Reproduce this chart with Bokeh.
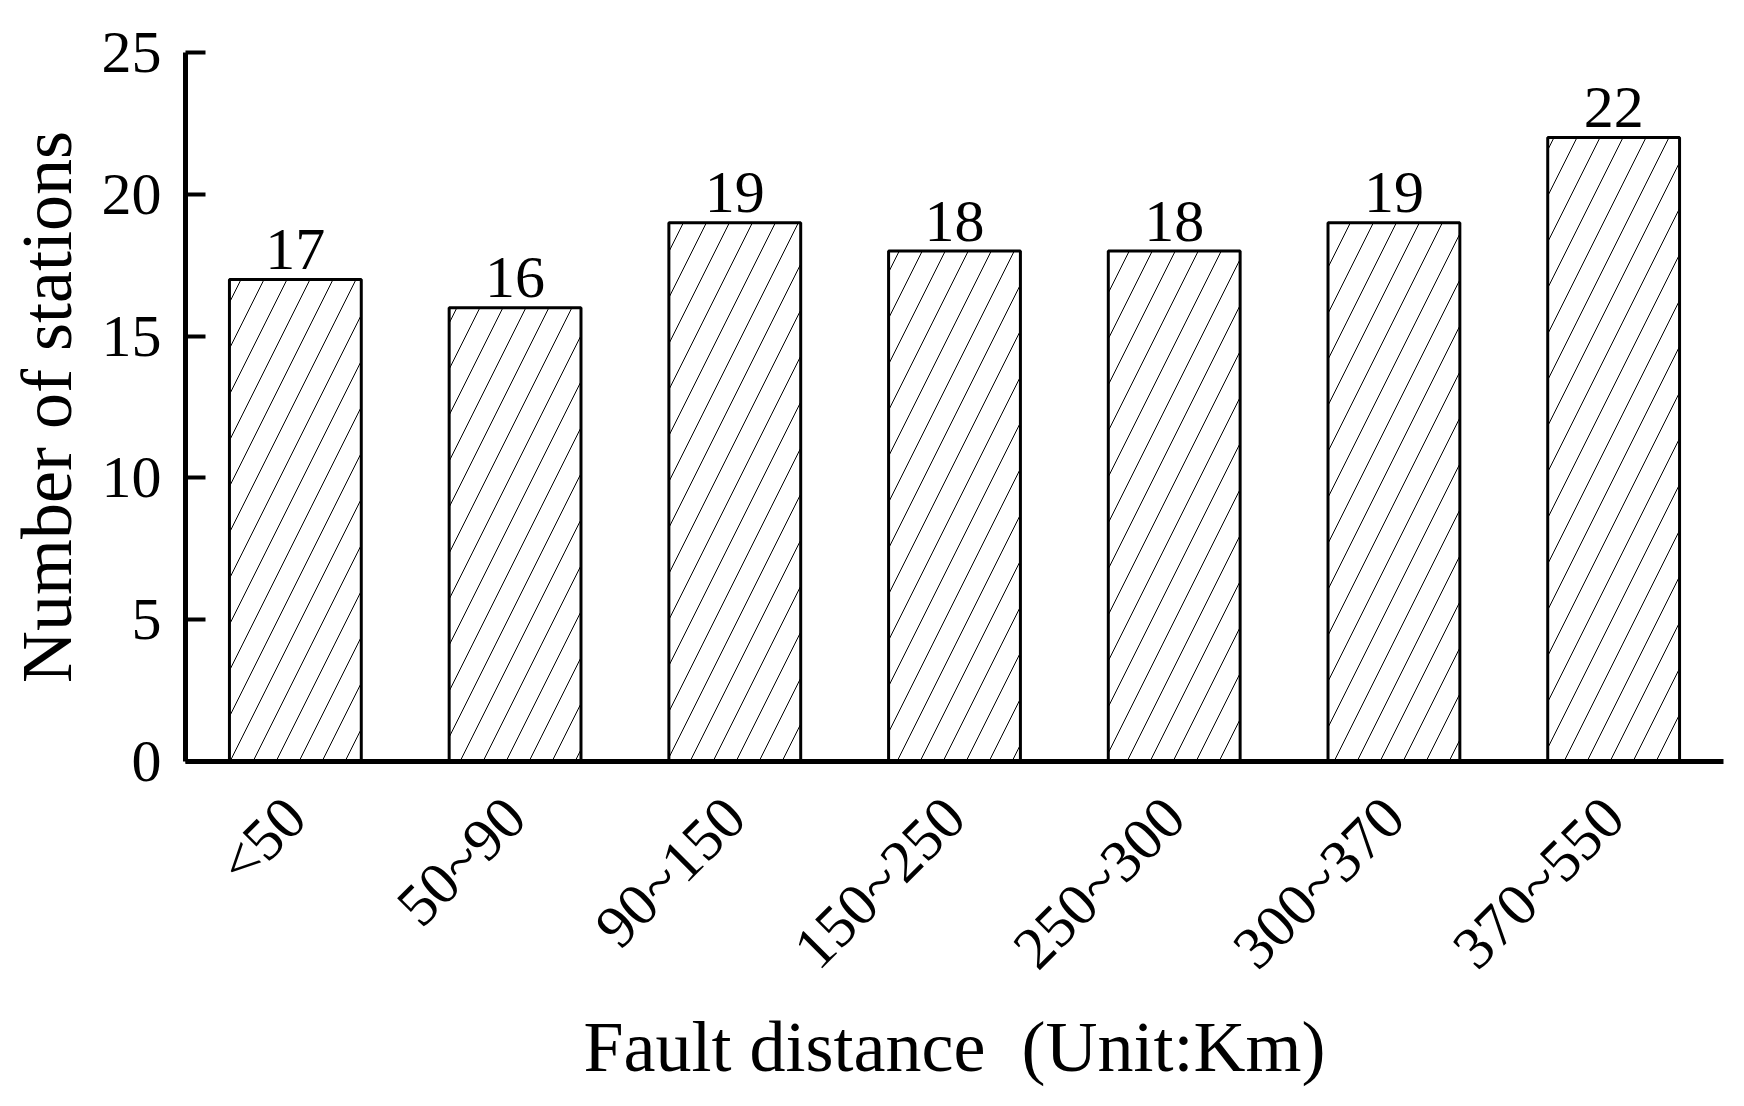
import math
from bokeh.plotting import figure
from bokeh.models import ColumnDataSource, FactorRange, Range1d, FixedTicker
from bokeh.core.properties import value
from bokeh.embed import file_html
from bokeh.resources import INLINE

categories = ["<50", "50~90", "90~150", "150~250", "250~300", "300~370", "370~550"]
stations = [17, 16, 19, 18, 18, 19, 22]
y_ticks = [0, 5, 10, 15, 20, 25]

FONT = "Liberation Serif"

src = ColumnDataSource(dict(cat=categories, val=stations,
                            lab=[str(v) for v in stations]))

p = figure(
    width=1728, height=1090,
    x_range=FactorRange(*categories, range_padding=0),
    y_range=Range1d(0, 25),
    output_backend="svg", toolbar_location=None,
    min_border_left=185, min_border_right=5, min_border_top=52, min_border_bottom=311,
)
p.outline_line_color = None
p.grid.visible = False
p.background_fill_color = "white"
p.border_fill_color = "white"

p.vbar(x="cat", top="val", width=0.6, bottom=0, source=src,
       fill_color="white", line_color="black", line_width=3,
       hatch_pattern="/", hatch_scale=46, hatch_weight=1, hatch_color="black")

# value labels above bars
p.text(x="cat", y="val", text="lab", source=src,
       text_font=value(FONT), text_font_size="60px", text_color="black",
       text_align="center", text_baseline="alphabetic", y_offset=-30)

# y axis
ya = p.yaxis[0]
ya.ticker = FixedTicker(ticks=y_ticks)
ya.axis_line_width = 5
ya.major_tick_line_width = 4
ya.major_tick_in = 20
ya.major_tick_out = 0
ya.minor_tick_line_color = None
ya.major_label_text_font = FONT
ya.major_label_text_font_size = "60px"
ya.major_label_text_color = "black"
ya.major_label_standoff = 24
ya.axis_label = "Number of stations"
ya.axis_label_text_font = FONT
ya.axis_label_text_font_size = "72px"
ya.axis_label_text_font_style = "normal"
ya.axis_label_text_color = "black"
ya.axis_label_standoff = 12

# x axis with rotated category labels
xa = p.xaxis[0]
xa.axis_line_width = 5
xa.major_tick_line_color = None
xa.minor_tick_line_color = None
xa.major_label_orientation = math.pi / 4
xa.major_label_text_font = FONT
xa.major_label_text_font_size = "60px"
xa.major_label_text_color = "black"
xa.major_label_standoff = 40
xa.axis_label = "Fault distance\u00a0 (Unit:Km)"
xa.axis_label_text_font = FONT
xa.axis_label_text_font_size = "72px"
xa.axis_label_text_font_style = "normal"
xa.axis_label_text_color = "black"
xa.axis_label_standoff = 0

open("out.html", "w").write(file_html(p, INLINE))
